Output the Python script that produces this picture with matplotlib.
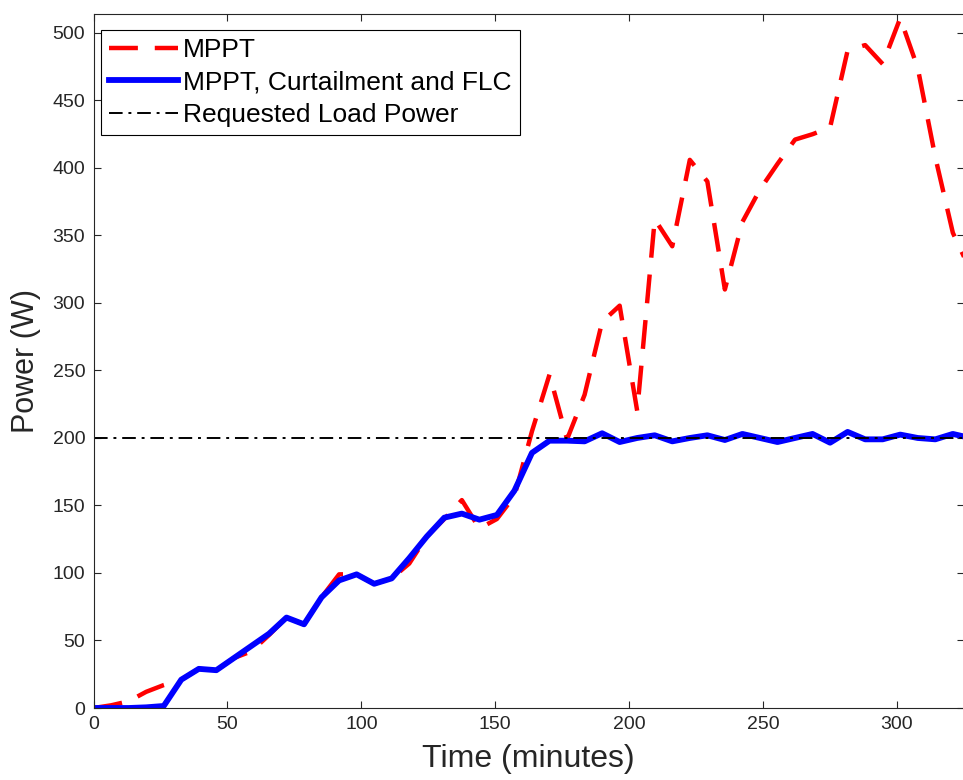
import matplotlib
matplotlib.use("Agg")
import matplotlib.pyplot as plt

plt.rcParams['font.family'] = ['Liberation Sans', 'DejaVu Sans']

# sample times (minutes)
t = [0, 6.55, 13.1, 19.65, 26.2, 32.75, 39.3, 45.85, 52.4, 58.95,
     65.5, 72.05, 78.6, 85.15, 91.7, 98.25, 104.8, 111.35, 117.9, 124.45,
     131, 137.55, 144.1, 150.65, 157.2, 163.75, 170.3, 176.85, 183.4, 189.95,
     196.5, 203.05, 209.6, 216.15, 222.7, 229.25, 235.8, 242.35, 248.9, 255.45,
     262, 268.55, 275.1, 281.65, 288.2, 294.75, 301.3, 307.85, 314.4, 320.95,
     327.5]

mppt = [0, 2, 5, 12, 17, 21, 29, 28, 37, 42,
        54, 67, 62, 82, 99, 99, 92, 96, 107, 127,
        140, 154, 133, 140, 157, 205, 247, 199, 232, 286,
        298, 220, 362, 342, 406, 390, 310, 360, 384, 403,
        421, 425, 430, 487, 491, 477, 511, 474, 408, 352,
        324]

mppt_flc = [0, 0, 0, 0.5, 1.5, 21, 29, 28, 37, 46,
            55, 67, 62, 82, 94.5, 99, 92, 96, 111, 127,
            141, 144, 139.5, 143, 161, 189, 198, 198, 197.5, 203.5,
            197, 200, 202, 197.5, 200, 202, 198.5, 203, 200, 197,
            200, 203, 196.5, 204.5, 199, 199, 202.5, 200, 199, 203,
            200]

load_request = 200

fig = plt.figure(figsize=(9.63, 7.8), dpi=100)
ax = fig.add_axes([0.0972, 0.0923, 0.9035, 0.8897])

ax.plot(t, mppt, color='#ff0000', linestyle=(0, (6.5, 3.8)), linewidth=3.2, label='MPPT')
ax.plot(t, mppt_flc, color='#0000ff', linewidth=4.2, label='MPPT, Curtailment and FLC')
ax.axhline(load_request, color='black', linestyle=(0, (7, 3, 1.5, 3)), linewidth=1.4,
           label='Requested Load Power')

ax.set_xlim(0, 325)
ax.set_ylim(0, 514)
ax.set_xticks([0, 50, 100, 150, 200, 250, 300])
ax.set_yticks([0, 50, 100, 150, 200, 250, 300, 350, 400, 450, 500])

ax.tick_params(direction='in', top=True, right=True, length=5, width=0.8,
               colors='#262626', labelsize=14, pad=6)
for sp in ax.spines.values():
    sp.set_color('#262626')
    sp.set_linewidth(0.8)

ax.set_xlabel('Time (minutes)', fontsize=23, color='#262626', labelpad=8)
ax.set_ylabel('Power (W)', fontsize=22, color='#262626', labelpad=8)

leg = ax.legend(loc='upper left', bbox_to_anchor=(0.009, 0.977), fontsize=19,
                handlelength=2.6, handletextpad=0.2, borderpad=0.3, labelspacing=0.33,
                borderaxespad=0, fancybox=False, framealpha=1, edgecolor='black')
leg.get_frame().set_linewidth(0.8)

fig.savefig('out.png', dpi=100)
